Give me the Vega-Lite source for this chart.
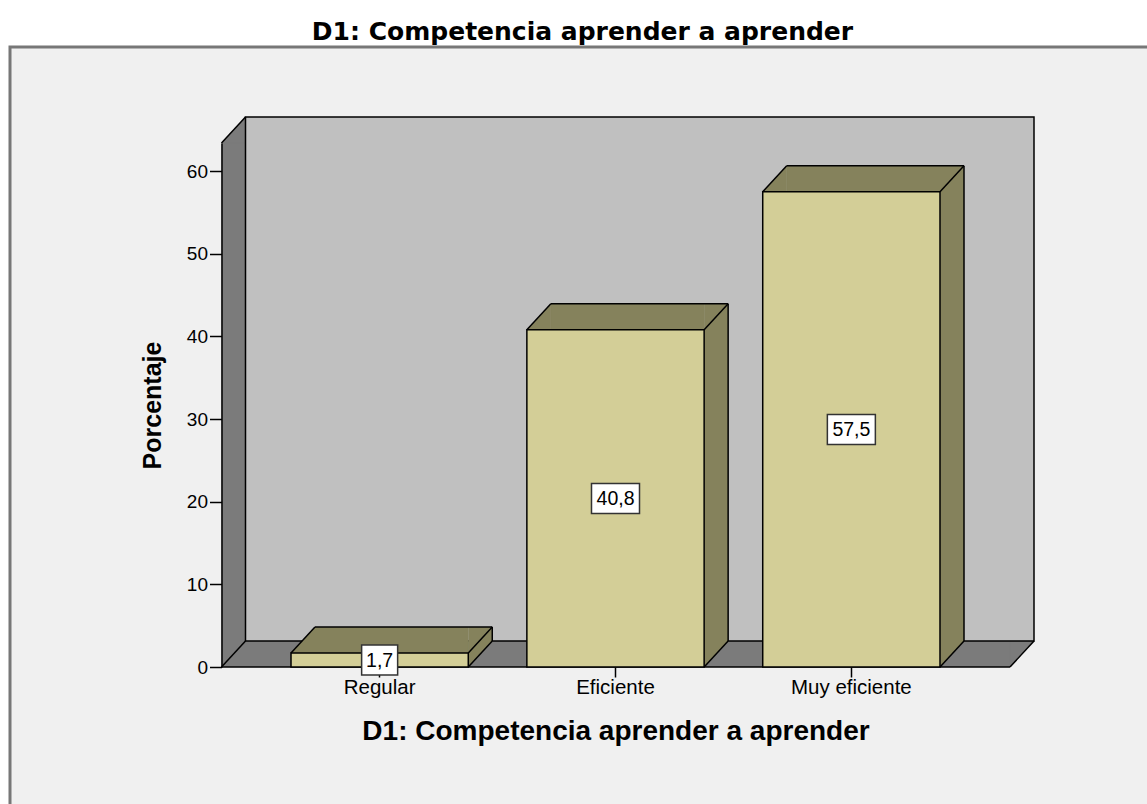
{
  "$schema": "https://vega.github.io/schema/vega-lite/v6.json",
  "width": 1145,
  "height": 770,
  "autosize": {"type": "none"},
  "padding": {"left": 10, "top": 47, "right": -8, "bottom": -13},
  "background": "#ffffff",
  "title": {"text": "D1: Competencia aprender a aprender", "font": "DejaVu Sans", "fontSize": 25, "fontWeight": "bold", "color": "#000000", "anchor": "middle", "frame": "group", "offset": 5, "baseline": "alphabetic", "dy": 23},
  "config": {
    "view": {"fill": "#f0f0f0", "stroke": "#777777", "strokeWidth": 3},
    "locale": {"number": {"decimal": ",", "thousands": ".", "grouping": [3], "currency": ["", " €"]}}
  },
  "data": {"values": [
    {"cat": "Regular", "pct": 1.7},
    {"cat": "Eficiente", "pct": 40.8},
    {"cat": "Muy eficiente", "pct": 57.5}
  ]},
  "resolve": {"scale": {"x": "independent"}, "axis": {"x": "independent"}},
  "layer": [
    {
      "transform": [{"aggregate": [{"op": "count", "as": "n"}]}],
      "layer": [
        {
          "mark": {"type": "rect", "fill": "#7b7b7b", "strokeWidth": 0},
          "encoding": {
            "x": {"datum": 0, "type": "quantitative", "scale": {"domain": [0, 1], "range": [211.5, 1000], "nice": false, "zero": false}, "axis": null},
            "x2": {"datum": 1},
            "y": {"datum": 0, "type": "quantitative", "title": "Porcentaje",
                  "scale": {"domain": [0, 63.4], "range": [620, 96], "nice": false, "zero": false},
                  "axis": {"values": [0, 10, 20, 30, 40, 50, 60], "format": "d", "offset": -211.5, "grid": false,
                           "domainColor": "#000000", "domainWidth": 1.5, "tickColor": "#000000", "tickWidth": 1.5, "tickSize": 12,
                           "labelPadding": 2, "labelFont": "Liberation Sans", "labelFontSize": 19, "labelColor": "#000000",
                           "titleFont": "Liberation Sans", "titleFontSize": 25, "titleFontWeight": "bold", "titleColor": "#000000",
                           "titleX": -61, "titleBaseline": "alphabetic", "titleAngle": -90, "zindex": 1}},
            "y2": {"datum": 63.4}
          }
        },
        {
          "mark": {"type": "point", "shape": "M 0 0 L 24 -26 L 24 0 Z", "size": 4, "filled": true, "fill": "#7b7b7b", "stroke": "#7b7b7b", "strokeWidth": 0.5, "opacity": 1},
          "encoding": {"x": {"datum": 0, "type": "quantitative"}, "y": {"datum": 63.4, "type": "quantitative", "title": "Porcentaje"}}
        },
        {
          "mark": {"type": "point", "shape": "M 0 0 L 24 -26 L 0 -26 Z", "size": 4, "filled": true, "fill": "#7b7b7b", "stroke": "#7b7b7b", "strokeWidth": 0.5, "opacity": 1},
          "encoding": {"x": {"datum": 1, "type": "quantitative"}, "y": {"datum": 0, "type": "quantitative", "title": "Porcentaje"}}
        },
        {
          "mark": {"type": "rect", "fill": "#c0c0c0", "stroke": "#000000", "strokeWidth": 1.5, "xOffset": 24, "x2Offset": 24, "yOffset": -26, "y2Offset": -26},
          "encoding": {"x": {"datum": 0, "type": "quantitative"}, "x2": {"datum": 1}, "y": {"datum": 0, "type": "quantitative", "title": "Porcentaje"}, "y2": {"datum": 63.4}}
        },
        {
          "mark": {"type": "rule", "stroke": "#000000", "strokeWidth": 1.5, "x2Offset": 24, "y2Offset": -26},
          "encoding": {"x": {"datum": 0, "type": "quantitative"}, "x2": {"datum": 0}, "y": {"datum": 63.4, "type": "quantitative", "title": "Porcentaje"}, "y2": {"datum": 63.4}}
        },
        {
          "mark": {"type": "rule", "stroke": "#000000", "strokeWidth": 1.5, "x2Offset": 24, "y2Offset": -26},
          "encoding": {"x": {"datum": 0, "type": "quantitative"}, "x2": {"datum": 0}, "y": {"datum": 0, "type": "quantitative", "title": "Porcentaje"}, "y2": {"datum": 0}}
        },
        {
          "mark": {"type": "rule", "stroke": "#000000", "strokeWidth": 1.5, "x2Offset": 24, "y2Offset": -26},
          "encoding": {"x": {"datum": 1, "type": "quantitative"}, "x2": {"datum": 1}, "y": {"datum": 0, "type": "quantitative", "title": "Porcentaje"}, "y2": {"datum": 0}}
        },
        {
          "mark": {"type": "rule", "stroke": "#000000", "strokeWidth": 1.5},
          "encoding": {"x": {"datum": 0, "type": "quantitative"}, "x2": {"datum": 1}, "y": {"datum": 0, "type": "quantitative", "title": "Porcentaje"}}
        }
      ]
    },
    {
      "layer": [
        {
          "mark": {"type": "rule", "stroke": "#85825c", "strokeWidth": 24, "strokeCap": "butt", "xOffset": 12, "yOffset": -26, "y2Offset": -26},
          "encoding": {"x": {"field": "cat", "type": "nominal", "bandPosition": 1}, "y": {"field": "pct", "type": "quantitative", "title": "Porcentaje"}, "y2": {"datum": 0}}
        },
        {
          "mark": {"type": "rule", "stroke": "#85825c", "strokeWidth": 26, "strokeCap": "butt", "xOffset": 24, "yOffset": -13},
          "encoding": {"x": {"field": "cat", "type": "nominal", "bandPosition": 0}, "x2": {"field": "cat", "bandPosition": 1}, "y": {"field": "pct", "type": "quantitative", "title": "Porcentaje"}}
        },
        {
          "mark": {"type": "point", "shape": "M 0 0 L 24 -26 L 24 0 Z", "size": 4, "filled": true, "fill": "#85825c", "stroke": "#85825c", "strokeWidth": 0.5, "opacity": 1},
          "encoding": {"x": {"field": "cat", "type": "nominal", "bandPosition": 0}, "y": {"field": "pct", "type": "quantitative", "title": "Porcentaje"}}
        },
        {
          "mark": {"type": "point", "shape": "M 0 0 L 24 -26 L 0 -26 Z", "size": 4, "filled": true, "fill": "#85825c", "stroke": "#85825c", "strokeWidth": 0.5, "opacity": 1},
          "encoding": {"x": {"field": "cat", "type": "nominal", "bandPosition": 1}, "y": {"datum": 0, "type": "quantitative", "title": "Porcentaje"}}
        },
        {
          "mark": {"type": "bar", "fill": "#d3ce97", "stroke": "#000000", "strokeWidth": 1.5},
          "encoding": {
            "x": {"field": "cat", "type": "nominal", "title": "D1: Competencia aprender a aprender",
                  "scale": {"domain": ["Regular", "Eficiente", "Muy eficiente"], "range": [281, 930], "paddingInner": 0.2484, "paddingOuter": 0},
                  "axis": {"orient": "bottom", "offset": -150, "domain": false, "tickColor": "#000000", "tickWidth": 1.5, "tickSize": 10,
                           "labelAngle": 0, "labelAlign": "center", "labelFont": "Liberation Sans", "labelFontSize": 20.5, "labelColor": "#000000", "labelPadding": 10,
                           "titleFont": "Liberation Sans", "titleFontSize": 28, "titleFontWeight": "bold", "titleColor": "#000000",
                           "titleY": 72, "titleBaseline": "alphabetic", "zindex": 0}},
            "y": {"field": "pct", "type": "quantitative", "title": "Porcentaje"}
          }
        },
        {
          "mark": {"type": "rule", "stroke": "#000000", "strokeWidth": 1.5, "xOffset": 24, "x2Offset": 24, "yOffset": -26},
          "encoding": {"x": {"field": "cat", "type": "nominal", "bandPosition": 0}, "x2": {"field": "cat", "bandPosition": 1}, "y": {"field": "pct", "type": "quantitative", "title": "Porcentaje"}}
        },
        {
          "mark": {"type": "rule", "stroke": "#000000", "strokeWidth": 1.5, "xOffset": 24, "yOffset": -26, "y2Offset": -26},
          "encoding": {"x": {"field": "cat", "type": "nominal", "bandPosition": 1}, "y": {"field": "pct", "type": "quantitative", "title": "Porcentaje"}, "y2": {"datum": 0}}
        },
        {
          "mark": {"type": "rule", "stroke": "#000000", "strokeWidth": 1.5, "x2Offset": 24, "y2Offset": -26},
          "encoding": {"x": {"field": "cat", "type": "nominal", "bandPosition": 0}, "x2": {"field": "cat", "bandPosition": 0}, "y": {"field": "pct", "type": "quantitative", "title": "Porcentaje"}, "y2": {"field": "pct"}}
        },
        {
          "mark": {"type": "rule", "stroke": "#000000", "strokeWidth": 1.5, "x2Offset": 24, "y2Offset": -26},
          "encoding": {"x": {"field": "cat", "type": "nominal", "bandPosition": 1}, "x2": {"field": "cat", "bandPosition": 1}, "y": {"field": "pct", "type": "quantitative", "title": "Porcentaje"}, "y2": {"field": "pct"}}
        },
        {
          "mark": {"type": "rule", "stroke": "#000000", "strokeWidth": 1.5, "x2Offset": 24, "y2Offset": -26},
          "encoding": {"x": {"field": "cat", "type": "nominal", "bandPosition": 1}, "x2": {"field": "cat", "bandPosition": 1}, "y": {"datum": 0, "type": "quantitative", "title": "Porcentaje"}, "y2": {"datum": 0}}
        },
        {
          "transform": [{"calculate": "datum.pct / 2", "as": "mitad"}],
          "mark": {"type": "point", "size": 4, "filled": true, "fill": "#ffffff", "stroke": "#333333", "strokeWidth": 1.5, "opacity": 1},
          "encoding": {
            "x": {"field": "cat", "type": "nominal"},
            "y": {"field": "mitad", "type": "quantitative", "title": "Porcentaje"},
            "shape": {"condition": {"test": "datum.pct < 10", "value": "M -18 -15 L 18 -15 L 18 15 L -18 15 Z"}, "value": "M -24 -15 L 24 -15 L 24 15 L -24 15 Z"}
          }
        },
        {
          "transform": [{"calculate": "datum.pct / 2", "as": "mitad"}],
          "mark": {"type": "text", "font": "Liberation Sans", "fontSize": 19.5, "color": "#000000", "align": "center", "baseline": "middle", "dy": 1},
          "encoding": {
            "x": {"field": "cat", "type": "nominal"},
            "y": {"field": "mitad", "type": "quantitative", "title": "Porcentaje"},
            "text": {"field": "pct", "type": "quantitative", "format": ".1f"}
          }
        }
      ]
    }
  ]
}
